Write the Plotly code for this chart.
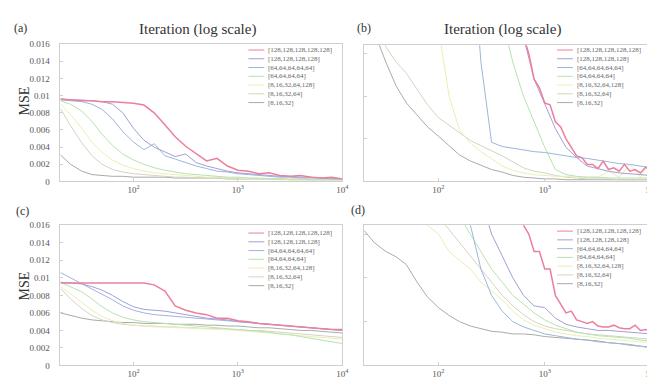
import plotly.graph_objects as go

# ---------------- data ----------------
ITER = [20, 25, 32, 40, 50, 63, 79, 100, 126, 158, 200, 251, 316, 398, 501, 631,
        794, 1000, 1259, 1585, 1995, 2512, 3162, 3981, 5012, 6310, 7943, 10000]
ITER_FINE = [316, 355, 398, 447, 501, 562, 631, 708, 794, 891, 1000, 1122, 1259, 1413,
             1585, 1778, 1995, 2239, 2512, 2818, 3162, 3548, 3981, 4467, 5012, 5623,
             6310, 7079, 7943, 8913, 10000]

NAMES = ["[128,128,128,128,128]", "[128,128,128,128]", "[64,64,64,64,64]",
         "[64,64,64,64]", "[8,16,32,64,128]", "[8,16,32,64]", "[8,16,32]"]

Y_TICKS = [0, 0.002, 0.004, 0.006, 0.008, 0.01, 0.012, 0.014, 0.016]
Y_TICKTEXT = ["0", "0.002", "0.004", "0.006", "0.008", "0.01", "0.012", "0.014", "0.016"]
X_TICKS = [100, 1000, 10000]
X_TICKTEXT = ["10<sup>2</sup>", "10<sup>3</sup>", "10<sup>4</sup>"]

# panel (a)
a_128x5 = [0.0096, 0.0095, 0.0094, 0.0094, 0.0093, 0.0093, 0.0092, 0.0091, 0.0089, 0.0080,
           0.0066, 0.0052, 0.0041, 0.0033, 0.0024, 0.0027, 0.0018, 0.0013, 0.0012, 0.0009,
           0.0010, 0.0007, 0.0006, 0.0007, 0.0005, 0.0004, 0.0005, 0.0003]
a_128x4 = [0.0096, 0.0095, 0.0095, 0.0094, 0.0093, 0.0090, 0.0080, 0.0062, 0.0048, 0.0040,
           0.0034, 0.0029, 0.0032, 0.0022, 0.0018, 0.0015, 0.0012, 0.0010, 0.0009, 0.0008,
           0.0007, 0.0006, 0.0006, 0.0005, 0.0005, 0.0004, 0.0004, 0.0003]
a_64x5 = [0.0095, 0.0094, 0.0093, 0.0090, 0.0084, 0.0073, 0.0058, 0.0046, 0.0037, 0.0044,
          0.0030, 0.0026, 0.0022, 0.0018, 0.0015, 0.0012, 0.0011, 0.0009, 0.0008, 0.0007,
          0.0006, 0.0005, 0.0005, 0.0004, 0.0004, 0.0004, 0.0003, 0.0003]
a_64x4 = [0.0094, 0.0090, 0.0082, 0.0070, 0.0055, 0.0042, 0.0032, 0.0025, 0.0020, 0.0016,
          0.0013, 0.0011, 0.0009, 0.0008, 0.0007, 0.0006, 0.0005, 0.0005, 0.0004, 0.0004,
          0.0003, 0.0003, 0.0003, 0.0003, 0.0002, 0.0002, 0.0002, 0.0002]
a_8to128 = [0.0090, 0.0078, 0.0062, 0.0046, 0.0034, 0.0025, 0.0019, 0.0015, 0.0012, 0.0010,
            0.0009, 0.0008, 0.0007, 0.0006, 0.0005, 0.0005, 0.0004, 0.0004, 0.0003, 0.0003,
            0.0003, 0.0003, 0.0002, 0.0002, 0.0002, 0.0002, 0.0002, 0.0002]
a_8to64 = [0.0085, 0.0065, 0.0045, 0.0030, 0.0020, 0.0014, 0.0011, 0.0009, 0.0008, 0.0007,
           0.0006, 0.0005, 0.0005, 0.0004, 0.0004, 0.0004, 0.0003, 0.0003, 0.0003, 0.0003,
           0.0003, 0.0002, 0.0002, 0.0002, 0.0002, 0.0002, 0.0002, 0.0002]
a_8to32 = [0.0031, 0.0020, 0.0012, 0.0008, 0.0007, 0.0006, 0.0006, 0.0005, 0.0005, 0.0005,
           0.0005, 0.0004, 0.0004, 0.0004, 0.0004, 0.0004, 0.0003, 0.0003, 0.0003, 0.0003,
           0.0003, 0.0003, 0.0002, 0.0002, 0.0002, 0.0002, 0.0002, 0.0002]

# panel (b)  (zoomed view; 128x5 sampled on ITER_FINE)
b_128x5 = [0.0030, 0.0030, 0.0030, 0.0030, 0.0026, 0.0021, 0.0017, 0.0015, 0.0012, 0.0011,
           0.00092, 0.0009, 0.0007, 0.00064, 0.0005, 0.0004, 0.0003, 0.00028, 0.0002, 0.0002,
           0.00015, 0.00024, 0.00014, 0.00016, 0.00012, 0.0002, 0.00012, 0.00014, 0.0001, 0.00017,
           0.00011]
b_128x4 = [0.003, 0.003, 0.003, 0.003, 0.003, 0.003, 0.003, 0.003, 0.003, 0.003,
           0.003, 0.003, 0.003, 0.003, 0.0024, 0.0017, 0.0012, 0.0009, 0.00062, 0.0004,
           0.00028, 0.00018, 0.00015, 0.00012, 0.0001, 0.00009, 0.00008, 0.00007]
b_64x5 = [0.003, 0.003, 0.003, 0.003, 0.003, 0.003, 0.003, 0.003, 0.003, 0.003,
          0.003, 0.0014, 0.00046, 0.00041, 0.00039, 0.00037, 0.00035, 0.00034, 0.00032, 0.0003,
          0.00028, 0.00027, 0.00025, 0.00023, 0.00021, 0.0002, 0.00018, 0.00016]
b_64x4 = [0.003, 0.003, 0.003, 0.003, 0.003, 0.003, 0.003, 0.003, 0.003, 0.003,
          0.003, 0.003, 0.003, 0.0019, 0.0014, 0.001, 0.0007, 0.0004, 0.00014, 0.00008,
          0.00006, 0.00005, 0.00005, 0.00004, 0.00004, 0.00004, 0.00004, 0.00004]
b_8to128 = [0.003, 0.003, 0.003, 0.003, 0.003, 0.003, 0.003, 0.0018, 0.0010, 0.0006,
            0.00045, 0.00035, 0.00026, 0.00018, 0.00013, 0.0001, 0.00008, 0.00007, 0.00006, 0.00006,
            0.00005, 0.00005, 0.00005, 0.00012, 0.00005, 0.0002, 0.00005, 0.00025]
b_8to64 = [0.0026, 0.0021, 0.00158, 0.0014, 0.00127, 0.00108, 0.0009, 0.00075, 0.00066, 0.00057,
           0.00048, 0.00042, 0.00036, 0.0003, 0.00023, 0.00016, 0.00012, 0.0001, 0.00007, 0.00005,
           0.00004, 0.00003, 0.00003, 0.00003, 0.00002, 0.00002, 0.00002, 0.00002]
b_8to32 = [0.0024, 0.00175, 0.0014, 0.00112, 0.00092, 0.00078, 0.00064, 0.00053, 0.00042, 0.00031,
           0.00024, 0.00019, 0.00014, 0.00011, 0.00007, 0.00005, 0.00004, 0.00003, 0.00003, 0.00002,
           0.00002, 0.00002, 0.00002, 0.00002, 0.00002, 0.00002, 0.00002, 0.00002]

# panel (c)
c_128x5 = [0.0094, 0.0094, 0.0094, 0.0094, 0.0094, 0.0094, 0.0094, 0.0094, 0.0094, 0.0092,
           0.0085, 0.0068, 0.0063, 0.0060, 0.0058, 0.0054, 0.0054, 0.0051, 0.0050, 0.0048,
           0.0047, 0.0046, 0.0045, 0.0044, 0.0043, 0.0042, 0.0041, 0.0041]
c_128x4 = [0.0095, 0.0094, 0.0093, 0.0090, 0.0086, 0.0080, 0.0073, 0.0067, 0.0064, 0.0063,
           0.0062, 0.0060, 0.0058, 0.0056, 0.0054, 0.0053, 0.0052, 0.0050, 0.0049, 0.0048,
           0.0047, 0.0046, 0.0045, 0.0044, 0.0043, 0.0042, 0.0041, 0.0040]
c_64x5 = [0.0106, 0.0100, 0.0094, 0.0088, 0.0082, 0.0075, 0.0068, 0.0063, 0.0060, 0.0058,
          0.0057, 0.0056, 0.0055, 0.0054, 0.0053, 0.0052, 0.0051, 0.0050, 0.0049, 0.0048,
          0.0047, 0.0046, 0.0045, 0.0044, 0.0043, 0.0042, 0.0041, 0.0040]
c_64x4 = [0.0095, 0.0090, 0.0084, 0.0076, 0.0067, 0.0060, 0.0055, 0.0052, 0.0050, 0.0049,
          0.0048, 0.0047, 0.0046, 0.0045, 0.0044, 0.0043, 0.0042, 0.0041, 0.0040, 0.0039,
          0.0038, 0.0036, 0.0035, 0.0033, 0.0031, 0.0029, 0.0027, 0.0025]
c_8to128 = [0.0090, 0.0082, 0.0072, 0.0063, 0.0056, 0.0051, 0.0048, 0.0046, 0.0045, 0.0044,
            0.0044, 0.0043, 0.0043, 0.0042, 0.0042, 0.0041, 0.0041, 0.0040, 0.0039, 0.0038,
            0.0037, 0.0036, 0.0035, 0.0034, 0.0033, 0.0032, 0.0031, 0.0030]
c_8to64 = [0.0088, 0.0076, 0.0065, 0.0057, 0.0052, 0.0049, 0.0047, 0.0046, 0.0045, 0.0045,
           0.0044, 0.0044, 0.0043, 0.0043, 0.0042, 0.0042, 0.0041, 0.0041, 0.0040, 0.0040,
           0.0039, 0.0038, 0.0037, 0.0036, 0.0035, 0.0034, 0.0033, 0.0032]
c_8to32 = [0.0060, 0.0057, 0.0054, 0.0052, 0.0051, 0.0050, 0.0049, 0.0049, 0.0048, 0.0048,
           0.0048, 0.0047, 0.0047, 0.0047, 0.0046, 0.0046, 0.0045, 0.0045, 0.0044, 0.0043,
           0.0043, 0.0042, 0.0041, 0.0040, 0.0040, 0.0039, 0.0038, 0.0037]

# panel (d)  (zoomed view; 128x5 sampled on ITER_FINE)
d_128x5 = [0.0030, 0.0030, 0.0030, 0.0025, 0.0021, 0.0018, 0.0016, 0.0015, 0.0013, 0.0013,
           0.0011, 0.0011, 0.0008, 0.0007, 0.0006, 0.00062, 0.00052, 0.0005, 0.00048, 0.0005,
           0.00045, 0.00044, 0.00044, 0.00046, 0.00043, 0.00042, 0.00042, 0.00046, 0.0004, 0.00041,
           0.00039]
d_128x4 = [0.003, 0.003, 0.003, 0.003, 0.003, 0.003, 0.003, 0.003, 0.003, 0.003,
           0.003, 0.0019, 0.0015, 0.00125, 0.001, 0.0008, 0.00068, 0.00066, 0.00054, 0.00047,
           0.00044, 0.00042, 0.0004, 0.0004, 0.00039, 0.00038, 0.00037, 0.00036]
d_64x5 = [0.003, 0.003, 0.003, 0.003, 0.003, 0.003, 0.003, 0.003, 0.003, 0.003,
          0.0016, 0.0011, 0.0008, 0.00062, 0.0005, 0.00044, 0.0004, 0.00036, 0.00034, 0.00032,
          0.0003, 0.00029, 0.00027, 0.00026, 0.00025, 0.00023, 0.00022, 0.0002]
d_64x4 = [0.003, 0.003, 0.003, 0.003, 0.003, 0.003, 0.003, 0.003, 0.003, 0.0017,
          0.0015, 0.0013, 0.0011, 0.00095, 0.0008, 0.0007, 0.0006, 0.00052, 0.00046, 0.00042,
          0.00038, 0.00036, 0.00034, 0.00033, 0.00032, 0.00031, 0.00029, 0.00028]
d_8to128 = [0.003, 0.003, 0.003, 0.003, 0.003, 0.0018, 0.0016, 0.0015, 0.0013, 0.0012,
            0.0011, 0.00095, 0.00085, 0.00075, 0.00062, 0.00052, 0.00046, 0.00042, 0.00038, 0.00036,
            0.00034, 0.00033, 0.00031, 0.0003, 0.00029, 0.00028, 0.00027, 0.00026]
d_8to64 = [0.003, 0.003, 0.003, 0.003, 0.003, 0.003, 0.003, 0.0017, 0.00155, 0.0014,
           0.00125, 0.0011, 0.00095, 0.0008, 0.00068, 0.00058, 0.0005, 0.00045, 0.00042, 0.0004,
           0.00038, 0.00036, 0.00035, 0.00034, 0.00033, 0.00032, 0.00031, 0.0003]
d_8to32 = [0.00154, 0.0014, 0.0013, 0.00124, 0.00115, 0.00095, 0.00078, 0.00066, 0.00057, 0.0005,
           0.00045, 0.00042, 0.00039, 0.00038, 0.00036, 0.00036, 0.00035, 0.00033, 0.00032, 0.00031,
           0.0003, 0.00029, 0.00028, 0.00026, 0.00025, 0.00024, 0.00022, 0.00021]

# ---------------- style ----------------
COLORS = ["#ec7f9c", "#a49ed6", "#9cb6dc", "#b6e2b0", "#eaeeb4", "#d4d4c0", "#aaaaaa"]
WIDTHS = [1.5, 1.0, 1.0, 1.0, 1.0, 1.0, 1.0]
FONT = "Liberation Serif"
W, H = 655, 380
FRAME = "#cfcfcf"

panels = [
    ("a", "", [a_128x5, a_128x4, a_64x5, a_64x4, a_8to128, a_8to64, a_8to32],
     [ITER] * 7, [0, 0.016], True, (53, 338), (32, 173), 38),
    ("b", "2", [b_128x5, b_128x4, b_64x5, b_64x4, b_8to128, b_8to64, b_8to32],
     [ITER_FINE] + [ITER] * 6, [0, 0.0016], False, (360, 650), (33, 173), 38),
    ("c", "3", [c_128x5, c_128x4, c_64x5, c_64x4, c_8to128, c_8to64, c_8to32],
     [ITER] * 7, [0, 0.016], True, (53, 338), (218, 362), 226),
    ("d", "4", [d_128x5, d_128x4, d_64x5, d_64x4, d_8to128, d_8to64, d_8to32],
     [ITER_FINE] + [ITER] * 6, [0, 0.0016], False, (360, 650), (218, 362), 224),
]

fig = go.Figure()
annotations = []
shapes = []

for name, sfx, series, xs, yr, ylab, (x0, x1), (ytop, ybot), legtop in panels:
    xa = "x" + sfx
    ya = "y" + sfx
    for k in reversed(range(len(series))):
        fig.add_trace(go.Scatter(
            x=xs[k], y=series[k], mode="lines", name=NAMES[k],
            line=dict(color=COLORS[k], width=WIDTHS[k]),
            xaxis=xa, yaxis=ya, showlegend=False, hoverinfo="skip"))
    xkey = "xaxis" + sfx
    ykey = "yaxis" + sfx
    fig.update_layout({
        xkey: dict(domain=[x0 / W, x1 / W], anchor=ya, type="log",
                   range=[1.30103, 4.0], tickvals=X_TICKS, ticktext=X_TICKTEXT,
                   showline=True, mirror=True, linecolor=FRAME, linewidth=1,
                   ticks="inside", ticklen=3, tickcolor=FRAME, showgrid=False,
                   zeroline=False, ticklabelstandoff=0,
                   tickfont=dict(family=FONT, size=9, color="#555")),
        ykey: dict(domain=[1 - ybot / H, 1 - ytop / H], anchor=xa, range=yr,
                   tickvals=Y_TICKS if ylab else None,
                   ticktext=Y_TICKTEXT if ylab else None,
                   showticklabels=ylab, showline=True, mirror=True,
                   linecolor=FRAME, linewidth=1, ticks="inside", ticklen=3,
                   tickcolor=FRAME, showgrid=False, zeroline=False,
                   ticklabelstandoff=8,
                   tickfont=dict(family=FONT, size=9, color="#555")),
    })
    # manual legend (compact, MATLAB-like)
    lx0 = x1 - 95
    for k, nm in enumerate(NAMES):
        py = legtop + 9 * k
        shapes.append(dict(type="line", xref="paper", yref="paper",
                           x0=lx0 / W, x1=(lx0 + 16) / W,
                           y0=1 - py / H, y1=1 - py / H,
                           line=dict(color=COLORS[k], width=1)))
        annotations.append(dict(text=nm, xref="paper", yref="paper",
                                x=(lx0 + 18) / W, y=1 - py / H,
                                xanchor="left", yanchor="middle", showarrow=False,
                                font=dict(family=FONT, size=7, color="#666")))

# titles, panel letters, y labels
for txt, px in [("Iteration (log scale)", 192), ("Iteration (log scale)", 500)]:
    annotations.append(dict(text=txt, xref="paper", yref="paper", x=px / W, y=1 - 17 / H,
                            xanchor="center", yanchor="middle", showarrow=False,
                            font=dict(family=FONT, size=15, color="#333")))
for txt, px, py in [("(a)", 13, 15), ("(b)", 360, 15), ("(c)", 15, 203), ("(d)", 354, 202)]:
    annotations.append(dict(text=txt, xref="paper", yref="paper", x=px / W, y=1 - py / H,
                            xanchor="center", yanchor="middle", showarrow=False,
                            font=dict(family=FONT, size=12, color="#333")))
for py in [90, 280]:
    annotations.append(dict(text="MSE", xref="paper", yref="paper", x=17 / W, y=1 - py / H,
                            xanchor="center", yanchor="middle", showarrow=False, textangle=-90,
                            font=dict(family=FONT, size=14, color="#333")))

fig.update_layout(width=W, height=H, margin=dict(l=0, r=0, t=0, b=0),
                  paper_bgcolor="white", plot_bgcolor="white", showlegend=False,
                  annotations=annotations, shapes=shapes,
                  font=dict(family=FONT))

fig.write_html("out.html")
